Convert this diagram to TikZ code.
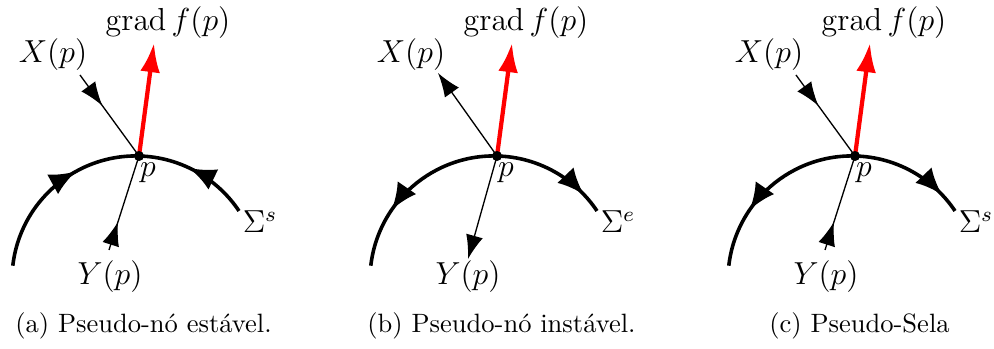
\documentclass[tikz,border=0pt]{standalone}
\usepackage{amsmath}
\usetikzlibrary{arrows.meta,decorations.markings}
\tikzset{
  x=0.377pt, y=0.377pt,
  arctip/.tip={Latex[length=10pt,width=8.5pt]},
  vectip/.tip={Latex[length=9pt,width=6.5pt]},
  gradtip/.tip={Latex[length=11pt,width=7.5pt]},
  arcline/.style={line width=1.35pt},
  vecline/.style={line width=0.5pt},
  gradvec/.style={red, line width=1.6pt, -{gradtip}},
  midtip/.style={postaction={decorate}, decoration={markings, mark=at position #1 with {\arrow{vectip}}}},
  arcin/.style={postaction={decorate}, decoration={markings,
      mark=at position 0.39 with {\arrow{arctip}},
      mark=at position 0.78 with {\arrowreversed{arctip}}}},
  arcout/.style={postaction={decorate}, decoration={markings,
      mark=at position 0.20 with {\arrowreversed{arctip}},
      mark=at position 0.93 with {\arrow{arctip}}}},
  pdot/.style={circle, fill=black, inner sep=0pt, minimum size=3.8pt},
  lbl/.style={inner sep=0pt, font=\fontsize{12}{14}\selectfont},
  captxt/.style={inner sep=0pt, font=\fontsize{10}{12}\selectfont},
}
\begin{document}
\begin{tikzpicture}
\useasboundingbox (0,0) rectangle (994,349);
% ---------- panel (a)
\begin{scope}
  \coordinate (sa) at (12.8,83.3);
  \coordinate (pa) at (139,193);
  \coordinate (xa) at (80,274);
  \coordinate (ya) at (109,99);
  \coordinate (ga) at (154,306);
  \draw[arcline, arcin] (sa) arc[start angle=173.4, end angle=33.8, radius=46.75pt];
  \draw[vecline, midtip=0.38] (xa) -- (pa);
  \draw[vecline, midtip=0.3] (ya) -- (pa);
  \draw[gradvec] (pa) -- (ga);
  \node[pdot] (Pa) at (pa) {};
  \node[lbl] (gla) at (168,326) {$\operatorname{grad}f(p)$};
  \node[lbl] (xla) at (53,294) {$X(p)$};
  \node[lbl] (yla) at (110,72) {$Y(p)$};
  \node[lbl] (pla) at (148,176) {$p$};
  \node[lbl] (sla) at (260,127) {$\Sigma^s$};
  \node[captxt] (ca) at (143.5,23) {(a) Pseudo-nó estável.};
\end{scope}
% ---------- panel (b)
\begin{scope}[shift={(358,0)}]
  \coordinate (sb) at (12.8,83.3);
  \coordinate (pb) at (139,193);
  \coordinate (xb) at (80,276);
  \coordinate (yb) at (110,90);
  \coordinate (gb) at (154,306);
  \draw[arcline, arcout] (sb) arc[start angle=173.4, end angle=33.8, radius=46.75pt];
  \draw[vecline, -{vectip}] (pb) -- (xb);
  \draw[vecline, -{vectip}] (pb) -- (yb);
  \draw[gradvec] (pb) -- (gb);
  \node[pdot] (Pb) at (pb) {};
  \node[lbl] (glb) at (168,326) {$\operatorname{grad}f(p)$};
  \node[lbl] (xlb) at (53,294) {$X(p)$};
  \node[lbl] (ylb) at (110,72) {$Y(p)$};
  \node[lbl] (plb) at (148,176) {$p$};
  \node[lbl] (slb) at (260,127) {$\Sigma^e$};
  \node[captxt] (cb) at (143.5,23) {(b) Pseudo-nó instável.};
\end{scope}
% ---------- panel (c)
\begin{scope}[shift={(716,0)}]
  \coordinate (sc) at (12.8,83.3);
  \coordinate (pc) at (139,193);
  \coordinate (xc) at (80,274);
  \coordinate (yc) at (109,99);
  \coordinate (gc) at (154,306);
  \draw[arcline, arcout] (sc) arc[start angle=173.4, end angle=33.8, radius=46.75pt];
  \draw[vecline, midtip=0.38] (xc) -- (pc);
  \draw[vecline, midtip=0.3] (yc) -- (pc);
  \draw[gradvec] (pc) -- (gc);
  \node[pdot] (Pc) at (pc) {};
  \node[lbl] (glc) at (168,326) {$\operatorname{grad}f(p)$};
  \node[lbl] (xlc) at (53,294) {$X(p)$};
  \node[lbl] (ylc) at (110,72) {$Y(p)$};
  \node[lbl] (plc) at (148,176) {$p$};
  \node[lbl] (slc) at (260,127) {$\Sigma^s$};
  \node[captxt] (cc) at (143.5,23) {(c) Pseudo-Sela};
\end{scope}
\end{tikzpicture}
\end{document}
